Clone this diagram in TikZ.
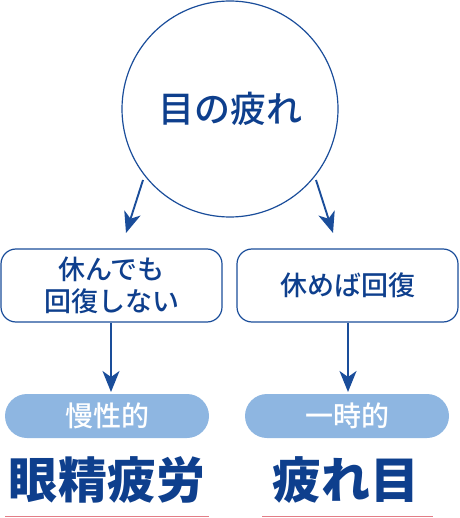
\documentclass[tikz,border=0pt]{standalone}
\usepackage{fontspec}
\newfontfamily\cjk{Noto Sans CJK JP Medium}
\newfontfamily\cjkblack{Noto Sans CJK JP Black}
\usetikzlibrary{arrows.meta}
\definecolor{navy}{HTML}{1A4D9A}
\definecolor{deepnavy}{HTML}{0E3F8D}
\definecolor{pill}{HTML}{8EB6E1}
\definecolor{pinkred}{HTML}{E47C86}
\tikzset{
  conn/.style={draw=navy, line width=1.9pt, -{Stealth[length=21pt,width=17pt,inset=6pt]}},
  optbox/.style={draw=navy, line width=1.2pt, rounded corners=15pt, minimum width=221pt, minimum height=73pt, inner sep=0pt, align=center, font=\cjk\fontsize{27}{32}\selectfont, text=deepnavy},
  pillbox/.style={fill=pill, rounded corners=22pt, minimum width=204pt, minimum height=44pt, inner sep=0pt, font=\cjk\fontsize{28}{30}\selectfont, text=white},
  bigtext/.style={font=\cjkblack\fontsize{49}{52}\selectfont, text=deepnavy, inner sep=0pt},
  uline/.style={draw=pinkred, line width=1.6pt}
}
\begin{document}
\begin{tikzpicture}[x=1pt,y=1pt]
\useasboundingbox (0,0) rectangle (459,-518);
\node[circle, draw=navy, line width=1.2pt, minimum size=216pt, inner sep=0pt, font=\cjk\fontsize{36}{40}\selectfont, text=deepnavy] (eye) at (230,-109) {目の疲れ};
\node[optbox] (left) at (111.5,-285.5) {休んでも\\回復しない};
\node[optbox] (right) at (347.5,-285.5) {休めば回復};
\node[pillbox] (lpill) at (107,-416) {慢性的};
\node[pillbox] (rpill) at (347,-416) {一時的};
\node[bigtext] (ltext) at (107,-480) {眼精疲労};
\node[bigtext] (rtext) at (346,-480) {疲れ目};
\coordinate (la1) at (143,-180);
\coordinate (la2) at (126,-233);
\coordinate (ra1) at (316,-180);
\coordinate (ra2) at (333,-233);
\draw[conn] (la1) -- (la2);
\draw[conn] (ra1) -- (ra2);
\coordinate (lb) at (111,-392);
\coordinate (rb) at (348,-392);
\draw[conn] (left.south -| lb) -- (lb);
\draw[conn] (right.south -| rb) -- (rb);
\coordinate (ul1) at (5,-516.5);
\coordinate (ul2) at (209,-516.5);
\coordinate (ur1) at (262,-516.5);
\coordinate (ur2) at (433,-516.5);
\draw[uline] (ul1) -- (ul2);
\draw[uline] (ur1) -- (ur2);
\end{tikzpicture}
\end{document}
